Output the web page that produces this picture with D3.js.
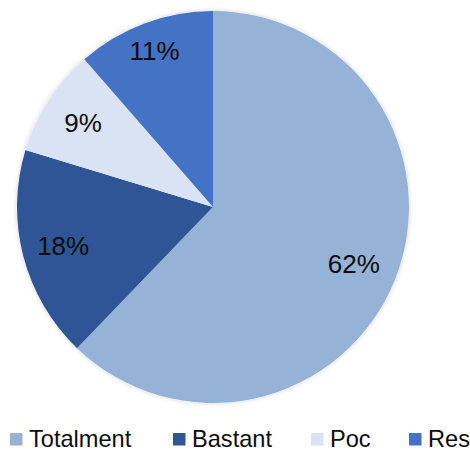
<!DOCTYPE html>
<html><head><meta charset="utf-8">
<script src="https://cdn.jsdelivr.net/npm/d3@7"></script>
<style>html,body{margin:0;padding:0;background:#fff;}svg{display:block;}</style>
</head><body>
<script>
const categories = ["Totalment", "Bastant", "Poc", "Res"];
const values = [62.2, 17.5, 8.9, 11.4];
const labels = ["62%", "18%", "9%", "11%"];
const colors = ["#95B3D7", "#2F5597", "#DAE3F3", "#4472C4"];

const W = 470, H = 451;
const cx = 213, cy = 207, R = 196;
const labelRadius = [0.775, 0.79, 0.79, 0.85];

const svg = d3.select("body").append("svg").attr("width", W).attr("height", H);
const defs = svg.append("defs");
const f = defs.append("filter").attr("id","sh").attr("x","-10%").attr("y","-10%").attr("width","120%").attr("height","120%");
f.append("feDropShadow").attr("dx",0).attr("dy",0).attr("stdDeviation",2.5).attr("flood-color","#000").attr("flood-opacity",0.18);

const data = categories.map((c,i)=>({c, v: values[i], l: labels[i], i}));
const pie = d3.pie().value(d=>d.v).sort(null);
const arcs = pie(data);
const arc = d3.arc().innerRadius(0).outerRadius(R);

const g = svg.append("g").attr("transform",`translate(${cx},${cy})`);
g.append("circle").attr("r",R).attr("fill","#fff").attr("filter","url(#sh)");
g.selectAll("path").data(arcs).join("path")
  .attr("d", arc).attr("fill", d=>colors[d.data.i]);

g.selectAll("text").data(arcs).join("text")
  .attr("transform", d=>{
    const a = (d.startAngle+d.endAngle)/2;
    const r = R*labelRadius[d.data.i];
    return `translate(${Math.sin(a)*r},${-Math.cos(a)*r})`;
  })
  .attr("text-anchor","middle").attr("dy","0.36em")
  .attr("font-family","Liberation Sans, Arial, sans-serif").attr("font-size",26)
  .attr("fill","#0d0d0d").text(d=>d.data.l);

const legendX = [10, 173, 311, 409];
const lg = svg.append("g");
const items = lg.selectAll("g").data(data).join("g")
  .attr("transform",(d,i)=>`translate(${legendX[i]},433)`);
items.append("rect").attr("width",12.5).attr("height",12.5).attr("fill",d=>colors[d.i]);
items.append("text").attr("x",19).attr("y",14.3)
  .attr("font-family","Liberation Sans, Arial, sans-serif").attr("font-size",23.6)
  .attr("fill","#0d0d0d").text(d=>d.c);
</script>
</body></html>
